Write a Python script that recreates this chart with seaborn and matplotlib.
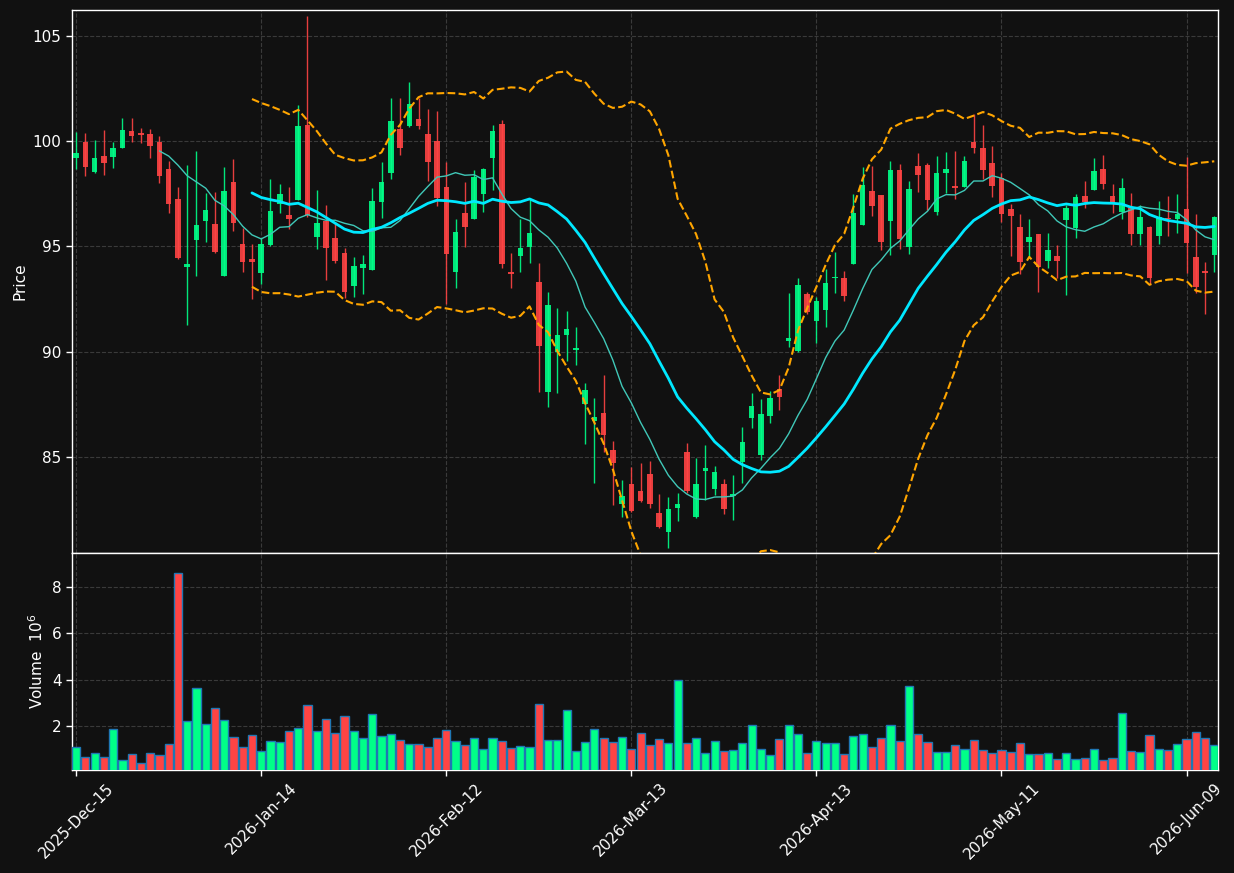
import numpy as np
import pandas as pd
import matplotlib
matplotlib.use("Agg")
import matplotlib.pyplot as plt
import seaborn as sns

# ---------------- data ----------------
opens = [99.21, 99.95, 98.54, 99.29, 99.25, 99.68, 100.48, 100.38, 100.33, 99.95,
         98.67, 97.24, 94.03, 95.31, 96.21, 96.06, 93.60, 98.05, 95.11, 94.39,
         93.74, 95.06, 97.01, 96.48, 97.20, 100.76, 95.45, 96.21, 95.39, 94.68,
         93.13, 93.98, 93.89, 97.10, 98.49, 100.57, 100.71, 101.05, 100.33, 100.00,
         97.83, 93.79, 96.59, 96.31, 97.50, 99.21, 100.81, 93.78, 94.55, 94.98,
         93.30, 88.09, 89.99, 90.80, 90.06, 87.52, 86.71, 87.08, 85.32, 82.74,
         83.71, 83.37, 84.18, 82.31, 81.44, 82.58, 85.23, 82.14, 84.34, 83.47,
         83.71, 83.15, 84.75, 86.84, 85.08, 86.95, 88.20, 90.51, 90.04, 92.73,
         91.46, 91.99, 93.49, 93.49, 94.17, 96.02, 97.62, 97.43, 96.21, 98.62,
         94.98, 98.81, 98.86, 96.64, 98.49, 97.86, 97.81, 99.95, 99.67, 98.95,
         98.23, 96.77, 95.91, 95.22, 95.58, 94.31, 94.54, 96.26, 95.88, 97.37,
         97.69, 98.66, 97.37, 96.64, 96.82, 95.60, 95.91, 95.50, 96.34, 96.29,
         96.77, 94.49, 93.79, 94.57]
highs = [100.44, 100.37, 100.03, 100.51, 99.94, 101.08, 101.08, 100.60, 100.56, 100.22,
         99.06, 97.80, 98.85, 99.51, 97.52, 97.56, 98.75, 99.13, 95.85, 95.11,
         95.38, 98.18, 97.94, 97.81, 101.71, 105.94, 97.66, 96.96, 96.17, 94.90,
         94.47, 94.57, 97.75, 98.99, 102.03, 102.03, 102.79, 102.03, 101.51, 101.44,
         98.99, 96.28, 98.07, 98.62, 98.73, 100.76, 101.00, 94.68, 96.28, 97.28,
         94.19, 92.81, 92.05, 91.92, 91.16, 88.49, 87.78, 88.88, 85.75, 83.90,
         84.50, 84.69, 84.80, 83.22, 83.07, 83.26, 85.64, 84.94, 85.54, 84.55,
         83.96, 84.12, 86.41, 88.01, 87.74, 88.14, 88.90, 92.80, 93.49, 92.81,
         92.57, 93.90, 94.74, 93.81, 97.47, 98.75, 98.80, 97.45, 99.04, 98.91,
         98.10, 99.43, 98.95, 99.29, 99.48, 99.52, 99.27, 101.28, 100.76, 99.75,
         98.50, 97.02, 96.55, 96.28, 95.60, 95.62, 95.05, 96.97, 97.47, 98.09,
         99.21, 99.32, 97.97, 98.26, 97.52, 96.96, 95.95, 97.14, 97.40, 97.47,
         99.25, 96.52, 94.27, 96.44]
lows = [98.66, 98.32, 98.50, 98.40, 98.73, 99.65, 99.97, 99.89, 99.18, 97.99,
        96.57, 94.38, 91.24, 93.57, 95.22, 94.70, 93.58, 95.71, 93.76, 92.48,
        93.22, 95.00, 96.59, 95.83, 97.18, 96.40, 94.86, 93.40, 94.19, 92.53,
        92.60, 92.72, 93.85, 96.33, 98.18, 99.32, 100.65, 100.56, 98.11, 96.90,
        92.26, 93.00, 94.95, 96.30, 96.64, 97.66, 93.95, 93.03, 93.79, 94.19,
        88.06, 87.35, 88.01, 89.55, 89.34, 85.59, 83.74, 85.24, 82.69, 82.14,
        82.36, 82.86, 82.55, 81.60, 80.65, 81.93, 83.30, 82.10, 82.93, 83.20,
        82.29, 82.01, 83.74, 86.38, 84.83, 86.59, 87.21, 90.20, 90.00, 91.77,
        90.42, 91.18, 92.79, 92.38, 94.15, 96.00, 96.45, 94.81, 94.57, 94.86,
        94.65, 97.56, 96.74, 96.50, 97.52, 97.23, 97.80, 99.42, 98.21, 97.33,
        96.17, 94.55, 93.67, 94.48, 92.84, 93.98, 93.51, 92.68, 95.39, 96.83,
        97.65, 97.71, 96.57, 96.31, 95.05, 95.05, 93.21, 95.09, 95.50, 95.62,
        93.74, 92.76, 91.78, 93.76]
closes = [99.44, 98.78, 99.19, 98.97, 99.67, 100.52, 100.25, 100.30, 99.78, 98.35,
          97.02, 94.46, 94.16, 96.01, 96.72, 94.74, 97.62, 96.12, 94.27, 94.27,
          95.11, 96.67, 97.48, 96.29, 100.71, 96.48, 96.10, 94.93, 94.30, 92.84,
          94.06, 94.14, 97.15, 98.05, 100.95, 99.68, 101.76, 100.71, 99.00, 97.31,
          94.65, 95.68, 95.93, 98.29, 98.67, 100.48, 94.17, 93.70, 94.92, 95.63,
          90.28, 92.21, 90.77, 91.08, 90.17, 88.17, 86.89, 86.05, 84.69, 83.12,
          82.44, 82.91, 82.74, 81.68, 82.52, 82.76, 83.37, 83.71, 84.47, 84.28,
          82.52, 83.24, 85.70, 87.41, 87.03, 87.79, 87.84, 90.64, 93.16, 91.89,
          92.40, 93.25, 93.55, 92.65, 96.58, 97.91, 96.93, 95.22, 98.62, 95.36,
          97.72, 98.40, 97.21, 98.48, 98.67, 97.78, 99.05, 99.68, 98.64, 97.88,
          96.52, 96.45, 94.27, 95.44, 94.03, 94.81, 94.31, 96.82, 97.33, 97.12,
          98.57, 97.97, 96.99, 97.75, 95.60, 96.39, 93.51, 96.39, 96.28, 96.55,
          95.17, 93.08, 93.73, 96.39]
volumes = [1.12, 0.69, 0.86, 0.69, 1.90, 0.56, 0.80, 0.43, 0.86, 0.78,
           1.24, 8.59, 2.24, 3.67, 2.11, 2.81, 2.29, 1.55, 1.12, 1.64,
           0.95, 1.38, 1.34, 1.81, 1.94, 2.93, 1.81, 2.33, 1.73, 2.46,
           1.81, 1.51, 2.55, 1.60, 1.68, 1.42, 1.25, 1.25, 1.12, 1.51,
           1.86, 1.38, 1.21, 1.51, 1.04, 1.51, 1.38, 1.08, 1.17, 1.12,
           2.98, 1.42, 1.42, 2.72, 0.95, 1.34, 1.90, 1.51, 1.34, 1.55,
           1.04, 1.73, 1.21, 1.47, 1.29, 4.01, 1.29, 1.51, 0.86, 1.38,
           0.95, 0.99, 1.29, 2.07, 1.04, 0.78, 1.47, 2.07, 1.68, 0.86,
           1.38, 1.29, 1.29, 0.82, 1.60, 1.68, 1.12, 1.51, 2.07, 1.38,
           3.75, 1.68, 1.34, 0.91, 0.91, 1.21, 1.04, 1.42, 0.99, 0.86,
           0.99, 0.91, 1.29, 0.80, 0.80, 0.86, 0.60, 0.86, 0.60, 0.65,
           1.04, 0.56, 0.65, 2.59, 0.95, 0.91, 1.64, 1.04, 0.99, 1.25,
           1.47, 1.77, 1.51, 1.21]
tick_labels = ["2025-Dec-15", "2026-Jan-14", "2026-Feb-12", "2026-Mar-13",
               "2026-Apr-13", "2026-May-11", "2026-Jun-09"]
tick_step = 20

# ---------------- style ----------------
BG = "#111111"
UP = "#00ff88"
DOWN = "#ff4444"
FG = "#ffffff"

sns.set_theme(style="dark", rc={
    "axes.facecolor": BG, "figure.facecolor": BG,
    "axes.edgecolor": FG, "axes.labelcolor": FG,
    "xtick.color": FG, "ytick.color": FG, "text.color": FG,
    "grid.color": "#3a3a3a", "grid.linestyle": "--", "grid.linewidth": 0.8,
})
plt.rcParams["font.family"] = ["DejaVu Sans"]

n = len(closes)
df = pd.DataFrame({"idx": np.arange(n), "open": opens, "high": highs,
                   "low": lows, "close": closes, "vol": volumes})
df["sma10"] = df["close"].rolling(10).mean()
df["sma20"] = df["close"].rolling(20).mean()
sd = df["close"].rolling(20).std(ddof=0)
df["bb_up"] = df["sma20"] + 2 * sd
df["bb_lo"] = df["sma20"] - 2 * sd
df["dir"] = np.where(df["close"] >= df["open"], "up", "down")
colors = np.where(df["dir"] == "up", UP, DOWN)

fig = plt.figure(figsize=(12.34, 8.73), dpi=100)
L, W = 72 / 1234, (1218 - 72) / 1234
ax1 = fig.add_axes([L, (873 - 553) / 873, W, (553 - 10) / 873])
ax2 = fig.add_axes([L, (873 - 770) / 873, W, (770 - 553) / 873], sharex=ax1)

# candles
ax1.vlines(df["idx"], df["low"], df["high"], colors=colors, linewidth=1.0,
           alpha=0.9, zorder=2)
body_lo = np.minimum(df["open"], df["close"])
body_h = np.maximum((df["close"] - df["open"]).abs(), 0.07)
ax1.bar(df["idx"], body_h, bottom=body_lo, width=0.6, color=colors,
        alpha=0.9, linewidth=0, zorder=3)

# indicators
sns.lineplot(data=df, x="idx", y="bb_up", ax=ax1, color="#ffa500",
             linestyle="--", linewidth=1.5, zorder=4)
sns.lineplot(data=df, x="idx", y="bb_lo", ax=ax1, color="#ffa500",
             linestyle="--", linewidth=1.5, zorder=4)
sns.lineplot(data=df, x="idx", y="sma10", ax=ax1, color="#40c8b8",
             linewidth=1.0, zorder=5)
sns.lineplot(data=df, x="idx", y="sma20", ax=ax1, color="#00e8ff",
             linewidth=2.0, zorder=5)

# volume
sns.barplot(data=df, x="idx", y="vol", hue="dir",
            palette={"up": UP, "down": DOWN}, native_scale=True, dodge=False,
            width=0.88, edgecolor="#1f77b4", linewidth=1.0, saturation=1,
            errorbar=None, legend=False, ax=ax2, zorder=3)

# axes layout
ax1.set_xlim(-0.45, 123.4)
ax1.set_ylim(80.43, 106.22)
ax2.set_ylim(0.3 * min(volumes), 1.1 * max(volumes))
ax1.set_yticks([85, 90, 95, 100, 105])
ax2.set_yticks([2, 4, 6, 8])
ax2.set_xticks(np.arange(0, n, tick_step)[:len(tick_labels)])
ax2.set_xticklabels(tick_labels, rotation=45, ha="center", fontsize=11)
ax1.tick_params(axis="x", labelbottom=False, length=0)
for ax in (ax1, ax2):
    ax.grid(True, linestyle="--", color="#3a3a3a", linewidth=0.8)
    ax.set_axisbelow(True)
    ax.tick_params(axis="y", labelsize=11, length=4, width=1, colors=FG, left=True)
    for s in ax.spines.values():
        s.set_color(FG)
        s.set_linewidth(1.0)
ax2.tick_params(axis="x", length=4, width=1, colors=FG, bottom=True)
ax1.set_xlabel("")
ax2.set_xlabel("")
ax1.set_ylabel("Price", fontsize=11, color=FG)
ax2.set_ylabel("Volume  $10^{6}$", fontsize=11, color=FG)

fig.savefig("out.png", dpi=100, facecolor=BG)
